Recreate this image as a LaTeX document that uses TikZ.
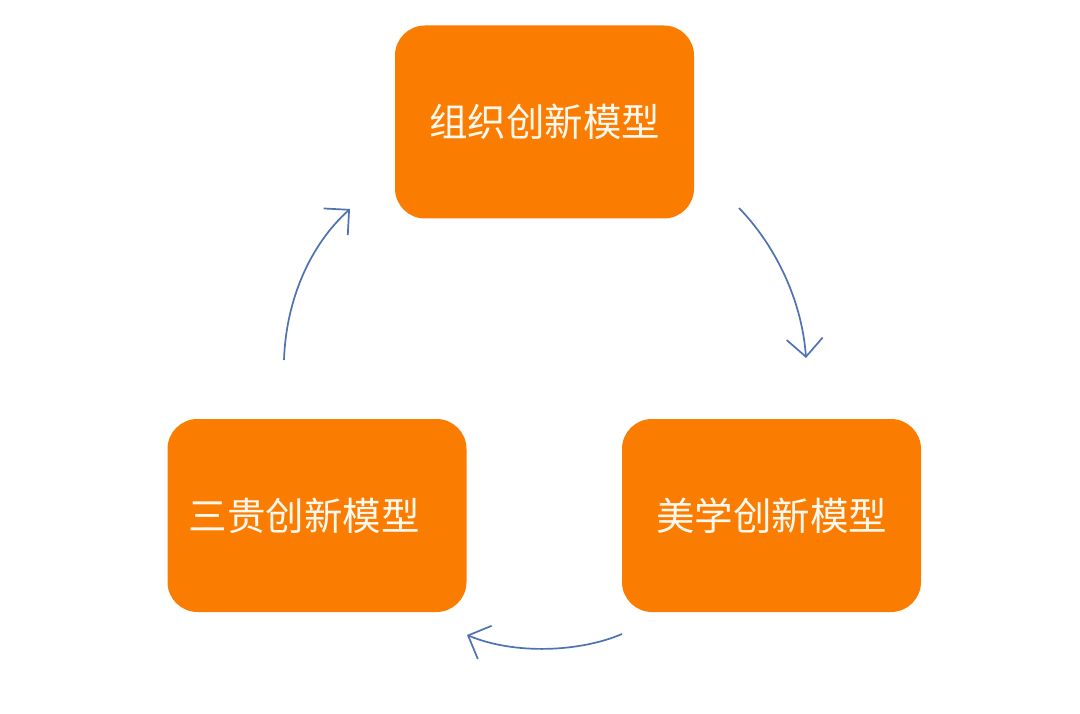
\documentclass[tikz,border=0pt]{standalone}
\usepackage{fontspec}
\newfontfamily\cjk{Noto Sans CJK SC}
\usetikzlibrary{arrows.meta}
\definecolor{boxorange}{RGB}{250,125,2}
\definecolor{arrowblue}{RGB}{78,114,178}
\definecolor{txtwhite}{RGB}{255,248,238}
\tikzset{
  modelbox/.style={fill=boxorange, draw=none, rounded corners=30pt,
    minimum width=299pt, minimum height=193pt, inner sep=0pt,
    text=txtwhite, font=\cjk\fontsize{38.5}{42}\selectfont},
  cyclearrow/.style={draw=arrowblue, line width=1.7pt,
    -{Straight Barb[length=18pt,width=36pt,line width=1.7pt]}}
}
\begin{document}
\begin{tikzpicture}[x=1pt,y=1pt]
\useasboundingbox (0,0) rectangle (1080,-714);
\fill[white] (0,0) rectangle (1080,-714);
\node[modelbox] (top) at (544.5,-122) {组织创新模型};
\node[modelbox] (left) at (317,-515.5) {\hspace*{-26pt}三贵创新模型};
\node[modelbox] (right) at (771.5,-515.5) {美学创新模型};
\coordinate (a1s) at (284,-360);
\coordinate (a1e) at (350,-209);
\coordinate (a2s) at (739,-208);
\coordinate (a2e) at (806,-358);
\coordinate (a3s) at (622,-634);
\coordinate (a3e) at (467,-635);
\draw[cyclearrow] (a1s) .. controls (286,-300) and (310,-245) .. (a1e);
\draw[cyclearrow] (a2s) .. controls (775,-245) and (802,-300) .. (a2e);
\draw[cyclearrow] (a3s) .. controls (580,-652) and (515,-655) .. (a3e);
\end{tikzpicture}
\end{document}
